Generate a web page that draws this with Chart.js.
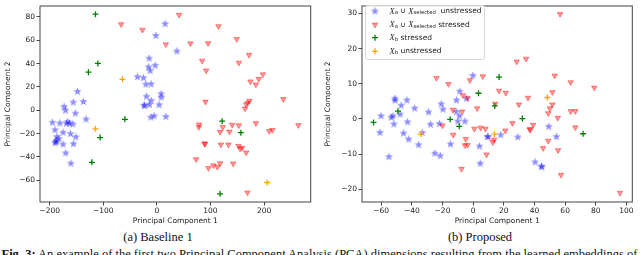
<!DOCTYPE html>
<html>
<head>
<meta charset="utf-8">
<script src="https://cdn.jsdelivr.net/npm/chart.js"></script>
<style>
body { margin: 0; width: 640px; height: 255px; overflow: hidden; background: #fff; position: relative; }
canvas { position: absolute; top: 0; }
.sub { position: absolute; top: 230px; font: 12.5px/14px "Liberation Serif", serif; color: #111; transform: translateX(-50%); white-space: nowrap; }
.fig { position: absolute; left: 1.5px; top: 247.5px; width: 636px; font: 12.5px/12.5px "Liberation Serif", serif; color: #111; text-align: justify; text-align-last: justify; }
</style>
</head>
<body>
<canvas id="baseline" width="320" height="226" style="left:0"></canvas>
<canvas id="proposed" width="320" height="226" style="left:320px"></canvas>
<div class="sub" style="left:158px">(a) Baseline 1</div>
<div class="sub" style="left:480px">(b) Proposed</div>
<div class="fig"><b>Fig. 3:</b> An example of the first two Principal Component Analysis (PCA) dimensions resulting from the learned embeddings of</div>
<script>
// (a) Baseline 1 - PCA points [pc1, pc2]
const baseUnstressed = [[15.5,74.2],[-1.9,64.1],[-14.4,44.6],[-3.2,38.5],[-15.7,37.1],[-12.5,34],[-36.2,28.8],[-25,27.9],
  [-20.5,22.3],[-10.6,22.6],[8,14.2],[8,11.2],[-19.4,12],[-10.6,8.4],[-13.8,5],[-23.7,4.5],[-23,4],[4.3,4.8],[-5,-4.7],
  [-11.2,-5.8],[16.8,-5.3],[37.3,50.8],[-148,16.2],[-156,7],[-137,7.5],[-173,3.3],[-170.5,0],[-152,-2.5],[-132,-7.5],
  [-195,-10.3],[-181,-10.9],[-166,-9.7],[-163,-11.1],[-156.7,-11.7],[-168.7,-11.1],[-190,-16.7],[-175,-18.9],[-161,-20],
  [-151,-22.8],[-186.6,-22.5],[-183,-24.2],[-188,-25.9],[-190,-27.8],[-188,-27],[-175,-29],[-155.6,-28.7],[-170,-36.5],[-160.5,-45.4]];
const baseStressed = [[-66.6,73.6],[-26.9,68.9],[16.8,56.4],[41.6,81.7],[115,71.9],[149,61],[62.7,57.2],[95.7,57.4],[172,47.4],
  [84.5,42.4],[153,40.7],[92,34],[197.8,30.7],[190,26.8],[174.6,24.6],[184.7,22],[90.7,7.3],[172.8,8.1],[169.8,6.4],[166.6,5],
  [164.7,1.4],[236,9.5],[79,-12.2],[78.3,-14.5],[140.5,-12.5],[153,-13],[123,-14.5],[118,-18.6],[135.5,-18.4],[184.7,-11.1],
  [264,-12.8],[209.5,-17.8],[215.7,-17],[88.8,-28.4],[90,-29],[119.4,-29.5],[133.6,-29.5],[152.3,-30.6],[155.4,-32.9],[159,-32.3],
  [166.6,-36.2],[73.3,-42],[118,-45.4],[105.6,-47.3],[113,-48.5],[96.3,-49.6],[142.4,-45.7],[169,-70.5]];
const baseBStressed = [[-114.5,82.3],[-110,40.1],[-127.6,32.6],[-59.7,-7.8],[-105.8,-23.4],[-121.3,-44.6],[121.8,-9.4],[156.7,-19.2],[118,-71.6]];
const baseBUnstressed = [[-64.2,26.5],[-114.5,-15.9],[205.8,-61.9]];
const baseXTicks = [-200, -100, 0, 100, 200];
const baseYTicks = [-60, -40, -20, 0, 20, 40, 60, 80];

// (b) Proposed
const propUnstressed = [[-0.2,12.4],[-8.7,7.9],[-51,5.9],[-51,5.3],[-43.2,5.4],[-10.9,5.4],[-4.4,5.9],[-46.9,3.9],[-20.8,4.3],
  [-38.2,3.1],[-19.7,2.8],[-29.1,2],[-60.1,0.9],[-53.4,0.5],[-52.3,0.9],[-47.6,1.4],[-8.9,0.9],[-11,2.1],[-51.7,-1.4],[-42.8,-0.8],
  [-27.8,-1.5],[-22,-1.3],[-10,-0.6],[-5.4,-0.6],[-60.8,-3.8],[-45.4,-4],[-33.2,-3.9],[-42.1,-5.7],[-35.6,-7.3],[-14.8,-7.1],
  [4.1,-7.7],[9.8,-5],[9.2,-5],[-54.9,-10.7],[-25,-9.7],[-21.5,-10.4],[4.6,-12.6],[18,-4.5],[29.1,-5.1],[49.3,-2.1],[54.3,-5],
  [40.4,-12.2],[44.8,-13.6],[44.5,-13.4]];
const propStressed = [[-23.9,11.6],[-16.1,9.9],[-2.1,11],[6.3,12.1],[16.9,8],[-6.7,6.7],[-3.7,5.9],[14.3,4.3],[-13.2,2.6],[2.6,3],
  [-7.2,2.1],[-20,-1.9],[0.8,-2.8],[4.8,-2.5],[8,-2.8],[-13,-4.5],[-4.8,-5.7],[-5.4,-7.5],[-3.7,-7.4],[12.8,-6.6],[13.7,-5.9],
  [8.7,-10.1],[-7.6,-14.2],[56.7,29.8],[28.4,16.3],[34.5,17.1],[53.2,12.3],[63.6,10.4],[79,8.9],[21.3,7.4],[51.7,7.6],[35.8,6],
  [29.8,4.1],[51.7,4.1],[50,3],[49,1.6],[63.6,2.2],[66.6,2.2],[55.2,0.3],[25.6,-1.2],[39.1,-1.7],[36.9,-2.9],[37.2,-3.1],[21,-3.3],
  [66.6,-2.4],[49,-6.2],[45.6,-8.3],[55.4,-8.9],[57.3,-15.9],[95.8,-21]];
const propBStressed = [[-65,-1],[-49,2.2],[3.5,7.3],[16.9,11.9],[14.1,3.7],[-15,-0.1],[-9.1,-2.1],[32.1,0.1],[71.7,-4.2]];
const propBUnstressed = [[-34.1,-4.3],[13.9,-4.3],[48.4,6.1]];
const propXTicks = [-60, -40, -20, 0, 20, 40, 60, 80, 100];
const propYTicks = [-20, -10, 0, 10, 20, 30];

// legend rows: [calligraphic X, subscript, rest...]
const legendRows = [
  [['X','cal'],['a','sub'],[' \u222a ','main'],['X','cal'],['selected','sub'],['  unstressed','main']],
  [['X','cal'],['a','sub'],[' \u222a ','main'],['X','cal'],['selected','sub'],[' stressed','main']],
  [['X','cal'],['b','sub'],[' stressed','main']],
  [['X','cal'],['b','sub'],[' unstressed','main']]
];

const BLUE = 'rgba(0,0,255,0.45)';
const RED = 'rgba(255,0,0,0.4)';
const GREEN = '#008000';
const ORANGE = '#ffa500';
const tickFont = { family: 'DejaVu Sans', size: 7.5 };

function starImage(color) {
  const c = document.createElement('canvas');
  c.width = 9; c.height = 9;
  const g = c.getContext('2d');
  g.beginPath();
  for (let i = 0; i < 10; i++) {
    const r = i % 2 === 0 ? 4.3 : 1.8;
    const a = -Math.PI / 2 + i * Math.PI / 5;
    g.lineTo(4.5 + r * Math.cos(a), 4.8 + r * Math.sin(a));
  }
  g.closePath();
  g.fillStyle = color;
  g.fill();
  return c;
}
const star = starImage(BLUE);

const toXY = arr => arr.map(p => ({ x: p[0], y: p[1] }));
const minus = v => String(v).replace('-', '\u2212');

function datasets(unstr, str, bStr, bUnstr) {
  return [
    { data: toXY(unstr), pointStyle: star, pointRadius: 4, order: 3 },
    { data: toXY(str), pointStyle: 'triangle', rotation: 180, pointRadius: 3.2, backgroundColor: RED, borderColor: RED, borderWidth: 1, order: 2 },
    { data: toXY(bStr), pointStyle: 'cross', pointRadius: 3, borderColor: GREEN, borderWidth: 1.3, order: 1 },
    { data: toXY(bUnstr), pointStyle: 'cross', pointRadius: 3, borderColor: ORANGE, borderWidth: 1.3, order: 0 }
  ];
}

const framePlugin = {
  id: 'frame',
  afterDatasetsDraw(chart) {
    const { ctx, chartArea: a } = chart;
    ctx.save();
    ctx.strokeStyle = '#444';
    ctx.lineWidth = 1;
    ctx.strokeRect(a.left, a.top, a.right - a.left, a.bottom - a.top);
    ctx.restore();
  }
};

const legendPlugin = {
  id: 'pcaLegend',
  afterDraw(chart) {
    const ctx = chart.ctx;
    ctx.save();
    ctx.beginPath();
    ctx.roundRect(45.5, 5.5, 119, 54, 2);
    ctx.fillStyle = 'rgba(255,255,255,0.8)';
    ctx.fill();
    ctx.strokeStyle = '#d6d6d6';
    ctx.lineWidth = 1;
    ctx.stroke();

    const rowsY = [11.3, 24.7, 37.7, 51.3];
    const mx = 55;
    // markers
    ctx.drawImage(star, mx - 4.5, rowsY[0] - 4.8);
    ctx.beginPath();
    ctx.moveTo(mx - 2.8, rowsY[1] - 1.6);
    ctx.lineTo(mx + 2.8, rowsY[1] - 1.6);
    ctx.lineTo(mx, rowsY[1] + 3.2);
    ctx.closePath();
    ctx.fillStyle = RED; ctx.strokeStyle = RED;
    ctx.fill(); ctx.stroke();
    [[GREEN, rowsY[2]], [ORANGE, rowsY[3]]].forEach(([c, y]) => {
      ctx.beginPath();
      ctx.moveTo(mx - 3, y); ctx.lineTo(mx + 3, y);
      ctx.moveTo(mx, y - 3); ctx.lineTo(mx, y + 3);
      ctx.strokeStyle = c; ctx.lineWidth = 1.3;
      ctx.stroke();
    });

    // labels
    const fonts = {
      main: ['7.5px "DejaVu Sans"', 0],
      cal: ['italic 8.5px "Liberation Serif"', 0],
      sub: ['5.3px "DejaVu Sans"', 1.8]
    };
    ctx.fillStyle = '#222';
    ctx.textBaseline = 'middle';
    legendRows.forEach((row, i) => {
      let x = 69.5;
      row.forEach(([t, f]) => {
        ctx.font = fonts[f][0];
        ctx.fillText(t, x, rowsY[i] + fonts[f][1]);
        x += ctx.measureText(t).width;
      });
    });
    ctx.restore();
  }
};

function makeChart(id, sets, xRange, yRange, xTicks, yTicks, yWidth, padRight, plugins) {
  return new Chart(document.getElementById(id), {
    type: 'scatter',
    data: { datasets: sets },
    options: {
      responsive: false,
      animation: false,
      layout: { padding: { left: 0, right: padRight, top: 1, bottom: 0 } },
      plugins: { legend: { display: false }, tooltip: { enabled: false } },
      scales: {
        x: {
          type: 'linear', min: xRange[0], max: xRange[1],
          afterBuildTicks: ax => { ax.ticks = xTicks.map(v => ({ value: v })); },
          afterFit: s => { s.height = 24; },
          grid: { drawOnChartArea: false, tickLength: 3.5, color: '#444' },
          border: { display: false },
          ticks: { font: tickFont, color: '#222', padding: 1.5, maxRotation: 0, autoSkip: false, callback: minus },
          title: { display: true, text: 'Principal Component 1', font: tickFont, color: '#222', padding: { top: 0, bottom: 0 } }
        },
        y: {
          type: 'linear', min: yRange[0], max: yRange[1],
          afterBuildTicks: ax => { ax.ticks = yTicks.map(v => ({ value: v })); },
          afterFit: s => { s.width = yWidth; },
          grid: { drawOnChartArea: false, tickLength: 3.5, color: '#444' },
          border: { display: false },
          ticks: { font: tickFont, color: '#222', padding: 1.5, autoSkip: false, callback: minus },
          title: { display: true, text: 'Principal Component 2', font: tickFont, color: '#222', padding: { top: 4, bottom: 0 } }
        }
      }
    },
    plugins: plugins
  });
}

makeChart('baseline', datasets(baseUnstressed, baseStressed, baseBStressed, baseBUnstressed),
  [-218, 287], [-78.6, 89.3], baseXTicks, baseYTicks, 40, 9.3, [framePlugin]);
makeChart('proposed', datasets(propUnstressed, propStressed, propBStressed, propBUnstressed),
  [-72.5, 103.8], [-23.6, 32.1], propXTicks, propYTicks, 42, 7.7, [framePlugin, legendPlugin]);
</script>
</body>
</html>
